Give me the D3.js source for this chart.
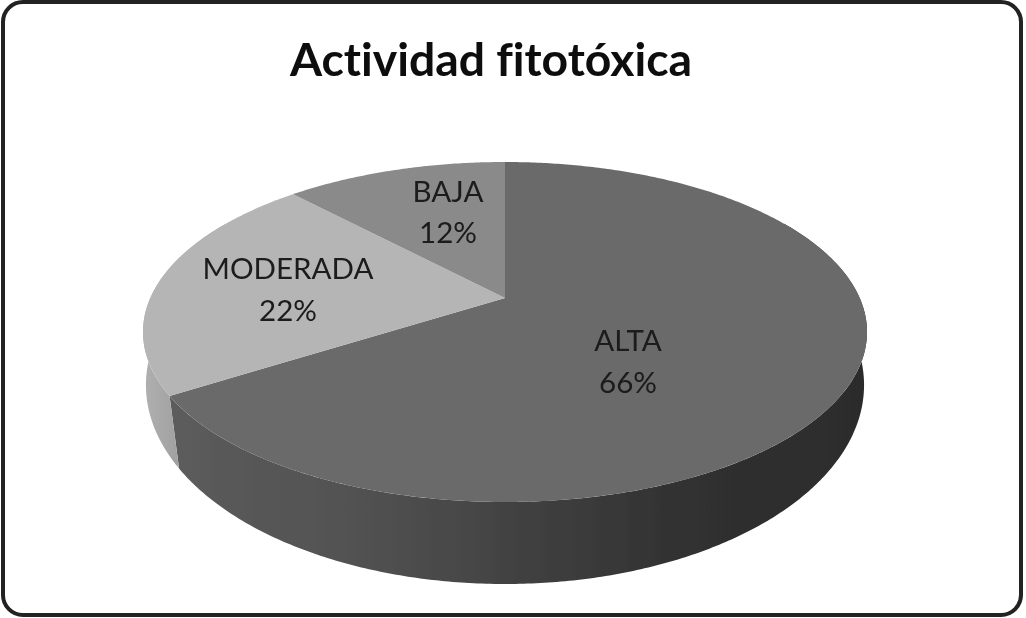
<!DOCTYPE html>
<html><head><meta charset="utf-8">
<script src="https://cdn.jsdelivr.net/npm/d3@7"></script>
<style>html,body{margin:0;padding:0;background:#fff}svg{display:block}text{font-family:Lato,Carlito,sans-serif;font-variant-ligatures:none}</style>
</head><body><svg id="c" width="1026" height="618"></svg>
<script>
const titleText = "Actividad fitotóxica";
const categories = ["ALTA","MODERADA","BAJA"];
const percentages = [66,22,12];
const topColors = ["#6b6b6b","#b5b5b5","#8a8a8a"];

const svg = d3.select("#c");
const defs = svg.append("defs");
const soft = defs.append("filter").attr("id","soft").attr("x","-5%").attr("y","-5%").attr("width","110%").attr("height","110%");
soft.append("feGaussianBlur").attr("stdDeviation",0.45);
const softT = defs.append("filter").attr("id","softT").attr("x","-5%").attr("y","-10%").attr("width","110%").attr("height","120%");
softT.append("feGaussianBlur").attr("stdDeviation",0.3);

// Side gradients
const g1 = defs.append("linearGradient").attr("id","sideA").attr("gradientUnits","userSpaceOnUse")
  .attr("x1",170).attr("x2",868).attr("y1",0).attr("y2",0);
[[0,"#5c5c5c"],[0.3,"#505050"],[0.5,"#414141"],[0.75,"#303030"],[1,"#2c2c2c"]]
  .forEach(s=>g1.append("stop").attr("offset",s[0]).attr("stop-color",s[1]));
const g2 = defs.append("linearGradient").attr("id","sideM").attr("gradientUnits","userSpaceOnUse")
  .attr("x1",143).attr("x2",180).attr("y1",0).attr("y2",0);
[[0,"#b0b0b0"],[1,"#a0a0a0"]].forEach(s=>g2.append("stop").attr("offset",s[0]).attr("stop-color",s[1]));

// Frame
svg.append("rect").attr("x",3).attr("y",2).attr("width",1018).attr("height",613)
  .attr("rx",20).attr("fill","#fff").attr("stroke","#222").attr("stroke-width",4);

// Perspective projection of the unit disc (top face and bottom rim)
const topTilt = 0.2, botTilt = 0.15;
const xTop = d3.scaleLinear().domain([-1,1]).range([505-354.7,505+354.7]);
const yTop = d3.scaleLinear().domain([-1,1]).range([298-163.2,298+163.2]);
const xBot = d3.scaleLinear().domain([-1,1]).range([505-355,505+355]);
const yBot = d3.scaleLinear().domain([-1,1]).range([355.2-194.5,355.2+194.5]);
function proj(a,r,xs,ys,t){
  const x=r*Math.sin(a), y=-r*Math.cos(a), w=1-t*y;
  return [xs(x/w), ys(y/w)];
}
const pTop = (a,r=1)=>proj(a,r,xTop,yTop,topTilt);
const pBot = a=>proj(a,1,xBot,yBot,botTilt);
const pie = d3.pie().sort(null).value(d=>d);
const arcs = pie(percentages);
const line = d3.line();
const steps = (a0,a1)=>{const n=Math.max(2,Math.ceil((a1-a0)/0.01));return d3.range(n+1).map(i=>a0+(a1-a0)*i/n);};

// Side walls; the part hidden behind the rim is covered by the top faces
const visStart = Math.PI/3, visEnd = 5*Math.PI/3;
arcs.forEach((d,i)=>{
  const a0=Math.max(d.startAngle,visStart), a1=Math.min(d.endAngle,visEnd);
  if(a1<=a0) return;
  const s=steps(a0,a1);
  const pts=s.map(a=>pTop(a)).concat(s.slice().reverse().map(a=>pBot(a)));
  svg.append("path").attr("d",line(pts)+"Z").attr("fill",i===0?"url(#sideA)":"url(#sideM)")
    .attr("filter","url(#soft)");
});
// Top faces
arcs.forEach((d,i)=>{
  const pts=[pTop(0,0)].concat(steps(d.startAngle,d.endAngle).map(a=>pTop(a)));
  svg.append("path").attr("d",line(pts)+"Z").attr("fill",topColors[i]).attr("filter","url(#soft)");
});

// Labels
const labelPos = [[628,351,393],[288,279,321],[448,202,243]];
categories.forEach((c,i)=>{
  const [x,y1,y2]=labelPos[i];
  svg.append("text").attr("x",x).attr("y",y1).attr("text-anchor","middle").attr("font-size",29.5).attr("fill","#1a1a1a").attr("filter","url(#softT)").text(c);
  svg.append("text").attr("x",x).attr("y",y2).attr("text-anchor","middle").attr("font-size",29.5).attr("fill","#1a1a1a").attr("filter","url(#softT)").text(percentages[i]+"%");
});
svg.append("text").attr("x",491).attr("y",76).attr("text-anchor","middle").attr("font-size",46.3).attr("font-weight",700).attr("fill","#0a0a0a").attr("filter","url(#softT)").text(titleText);
</script></body></html>
